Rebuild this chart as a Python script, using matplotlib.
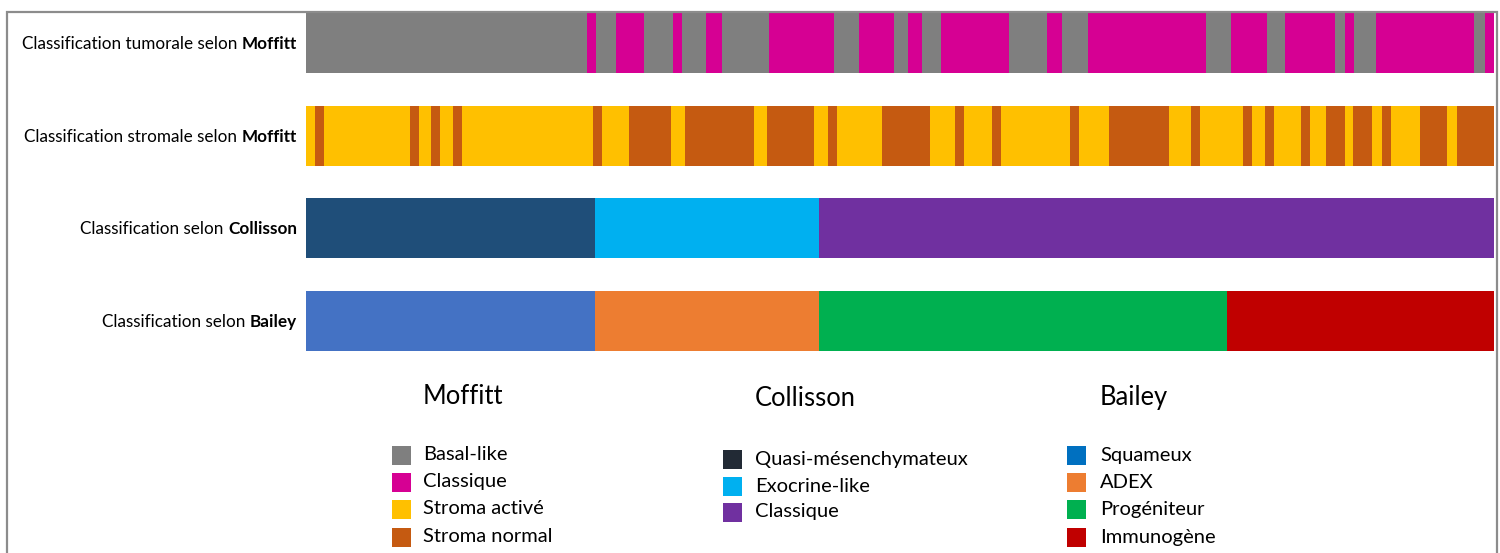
import matplotlib
matplotlib.use("Agg")
import matplotlib.pyplot as plt
from matplotlib.patches import Rectangle

# ---------------- data ----------------
row_prefix = ["Classification tumorale selon ", "Classification stromale selon ",
              "Classification selon ", "Classification selon "]
row_bold = ["Moffitt", "Moffitt", "Collisson", "Bailey"]

# segment widths (share of the cohort, arbitrary units, total 1188) and their classes
tumoral_classes = ["Basal-like", "Classique"] * 15
tumoral_widths = [281, 9, 20, 28, 29, 9, 24, 16, 47, 65, 25, 35, 14, 14, 19,
                  68, 38, 15, 26, 118, 25, 36, 18, 50, 10, 9, 22, 98, 11, 9]

stromal_classes = ["Stroma activé", "Stroma normal"] * 23
stromal_widths = [9, 9, 86, 9, 12, 9, 13, 9, 131, 9, 27, 42, 14, 69, 13, 47,
                  14, 9, 45, 48, 25, 9, 28, 9, 69, 9, 30, 60, 22, 9, 43, 9,
                  13, 9, 27, 9, 16, 19, 8, 19, 10, 9, 29, 27, 10, 37]

collisson_classes = ["Quasi-mésenchymateux", "Exocrine-like", "Classique (C)"]
collisson_widths = [289, 224, 675]

bailey_classes = ["Squameux", "ADEX", "Progéniteur", "Immunogène"]
bailey_widths = [289, 224, 408, 267]

bar_colors = {
    "Basal-like": "#7F7F7F", "Classique": "#D60093",
    "Stroma activé": "#FFC000", "Stroma normal": "#C55A11",
    "Quasi-mésenchymateux": "#1F4E79", "Exocrine-like": "#00B0F0",
    "Classique (C)": "#7030A0",
    "Squameux": "#4472C4", "ADEX": "#ED7D31", "Progéniteur": "#00B050",
    "Immunogène": "#C00000",
}

legend_titles = ["Moffitt", "Collisson", "Bailey"]
legend_labels = [["Basal-like", "Classique", "Stroma activé", "Stroma normal"],
                 ["Quasi-mésenchymateux", "Exocrine-like", "Classique"],
                 ["Squameux", "ADEX", "Progéniteur", "Immunogène"]]
legend_colors = [["#7F7F7F", "#D60093", "#FFC000", "#C55A11"],
                 ["#222A35", "#00B0F0", "#7030A0"],
                 ["#0070C0", "#ED7D31", "#00B050", "#C00000"]]

# ---------------- figure ----------------
FONT = "Lato"
plt.rcParams["font.family"] = [FONT, "DejaVu Sans"]
W, H = 1500, 553
fig = plt.figure(figsize=(W / 100, H / 100), dpi=100)
fig.patch.set_facecolor("white")

# bars axes
ax = fig.add_axes([306 / W, 1 - 351 / H, 1188 / W, 338 / H])
rows = [(tumoral_classes, tumoral_widths), (stromal_classes, stromal_widths),
        (collisson_classes, collisson_widths), (bailey_classes, bailey_widths)]
bar_h = 60 / 92.67
for i, (cls, wid) in enumerate(rows):
    left = 0
    for c, w in zip(cls, wid):
        ax.barh(i, w, left=left, height=bar_h, color=bar_colors[c], linewidth=0)
        left += w
ax.set_xlim(0, sum(tumoral_widths))
ax.set_ylim(3 + 30 / 92.67, -30 / 92.67)
ax.axis("off")

# row labels (normal + bold parts), right aligned at x = 297 px
renderer = fig.canvas.get_renderer()
label_fs = 12.3
for i in range(4):
    y_px = 44 + 92.67 * i
    yf = 1 - y_px / H
    tb = fig.text(297 / W, yf, row_bold[i], ha="right", va="center",
                  fontsize=label_fs, fontweight="bold", color="black")
    bb = tb.get_window_extent(renderer=renderer)
    fig.text(bb.x0 / W, yf, row_prefix[i], ha="right", va="center",
             fontsize=label_fs, color="black")

# legends
title_pos = [(423, 396), (755, 399), (1100, 397)]
sq_x = [392, 723, 1067]
txt_x = [423, 755, 1100]
row_y = [[455, 482, 509, 537], [459, 486, 512], [455, 482, 509, 537]]
sq = 19
for g in range(3):
    fig.text(title_pos[g][0] / W, 1 - title_pos[g][1] / H, legend_titles[g],
             ha="left", va="center", fontsize=18.4, color="black")
    for lab, col, yy in zip(legend_labels[g], legend_colors[g], row_y[g]):
        fig.add_artist(Rectangle((sq_x[g] / W, 1 - (yy + sq / 2) / H), sq / W, sq / H,
                                 transform=fig.transFigure, facecolor=col,
                                 edgecolor="none"))
        fig.text(txt_x[g] / W, 1 - yy / H, lab, ha="left", va="center",
                 fontsize=14.5, color="black")

# outer frame (bottom edge lies outside the picture)
fig.add_artist(Rectangle((7 / W, -0.1), 1490 / W, 1.1 - 12 / H,
                         transform=fig.transFigure, facecolor="none",
                         edgecolor="#8C8C8C", linewidth=1.6, clip_on=False))

fig.savefig("out.png", dpi=100, facecolor="white")
